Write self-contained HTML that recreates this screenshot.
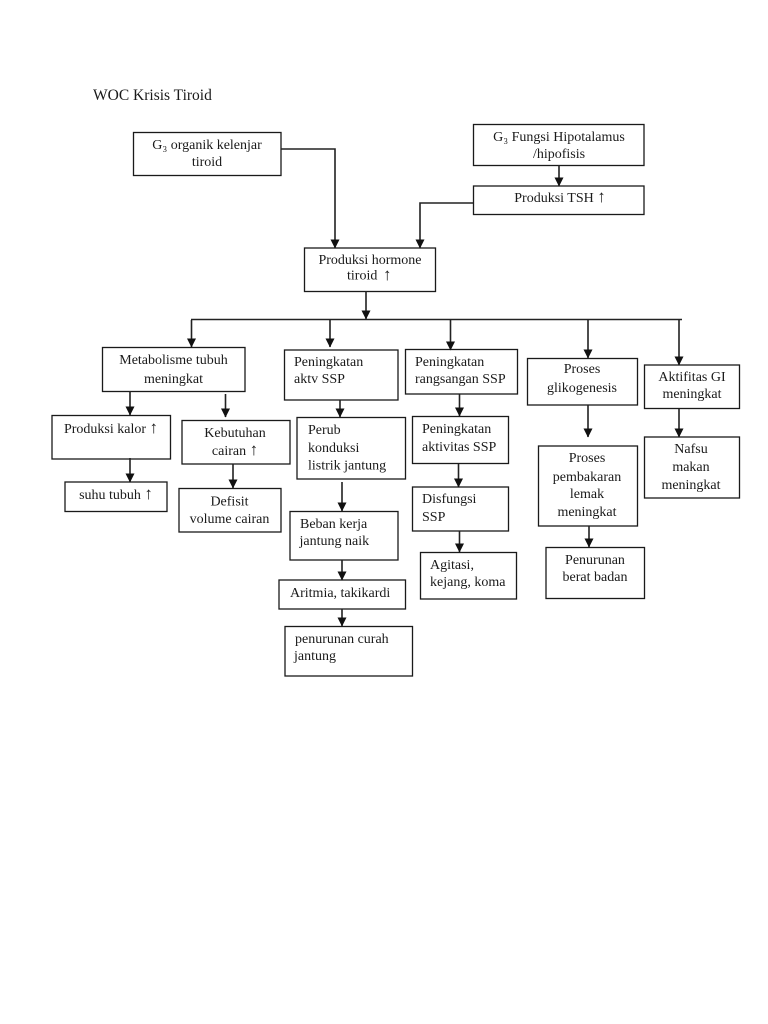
<!DOCTYPE html>
<html lang="id">
<head>
<meta charset="utf-8">
<title>WOC Krisis Tiroid</title>
<style>
html,body{margin:0;padding:0;background:#fff;}
svg{display:block;}
text{font-family:"Liberation Serif",serif;font-size:14px;fill:#1a1a1a;}
.c{text-anchor:middle;}
.b{fill:#fff;stroke:#1a1a1a;stroke-width:1.3;}
.l{fill:none;stroke:#222;stroke-width:1.6;}
.u{font-size:17px;}
</style>
</head>
<body>
<svg width="768" height="1024" viewBox="0 0 768 1024" xmlns="http://www.w3.org/2000/svg">
<defs>
<marker id="a" markerUnits="userSpaceOnUse" markerWidth="9" markerHeight="9" refX="8.5" refY="4.5" orient="auto">
<path d="M0 0L9 4.5L0 9Z" fill="#111"/>
</marker>
</defs>
<rect width="768" height="1024" fill="#fff"/>

<!-- boxes -->
<rect class="b" x="133.5" y="132.5" width="147.5" height="43"/>
<rect class="b" x="473.5" y="124.5" width="170.5" height="41"/>
<rect class="b" x="473.5" y="186" width="170.5" height="28.5"/>
<rect class="b" x="304.5" y="248" width="131" height="43.5"/>
<rect class="b" x="102.5" y="347.5" width="142.5" height="44"/>
<rect class="b" x="284.5" y="350" width="113.5" height="50"/>
<rect class="b" x="405.5" y="349.5" width="112" height="44.5"/>
<rect class="b" x="527.5" y="358.5" width="110" height="46.5"/>
<rect class="b" x="644.5" y="365" width="95" height="43.5"/>
<rect class="b" x="52" y="415.5" width="118.5" height="43.5"/>
<rect class="b" x="182" y="420.5" width="108" height="43.5"/>
<rect class="b" x="297" y="417.5" width="108.5" height="61.5"/>
<rect class="b" x="412.5" y="416.5" width="96" height="47"/>
<rect class="b" x="538.5" y="446" width="99" height="80"/>
<rect class="b" x="644.5" y="437" width="95" height="61"/>
<rect class="b" x="65" y="482" width="102" height="29.5"/>
<rect class="b" x="179" y="488.5" width="102" height="43.5"/>
<rect class="b" x="412.5" y="487" width="96" height="44"/>
<rect class="b" x="290" y="511.5" width="108" height="48.5"/>
<rect class="b" x="420.5" y="552.5" width="96" height="46.5"/>
<rect class="b" x="546" y="547.5" width="98.5" height="51"/>
<rect class="b" x="279" y="580" width="126.5" height="29"/>
<rect class="b" x="285" y="626.5" width="127.5" height="49.5"/>

<!-- connectors -->
<path class="l" d="M281 149H335V248" marker-end="url(#a)"/>
<path class="l" d="M473 203H420V248" marker-end="url(#a)"/>
<path class="l" d="M559 165V186" marker-end="url(#a)"/>
<path class="l" d="M366 291V319" marker-end="url(#a)"/>
<path class="l" d="M191 319.5H682" stroke-width="1.3"/>
<path class="l" d="M191.500 320V347" marker-end="url(#a)"/>
<path class="l" d="M330 320V347" marker-end="url(#a)"/>
<path class="l" d="M450.500 320V350" marker-end="url(#a)"/>
<path class="l" d="M588 320V358" marker-end="url(#a)"/>
<path class="l" d="M679 320V365" marker-end="url(#a)"/>
<path class="l" d="M130 391V415" marker-end="url(#a)"/>
<path class="l" d="M225.500 394V417" marker-end="url(#a)"/>
<path class="l" d="M130 458V482" marker-end="url(#a)"/>
<path class="l" d="M233 464V488" marker-end="url(#a)"/>
<path class="l" d="M340 400V417" marker-end="url(#a)"/>
<path class="l" d="M342 482V511" marker-end="url(#a)"/>
<path class="l" d="M342 560V580" marker-end="url(#a)"/>
<path class="l" d="M342 609V626" marker-end="url(#a)"/>
<path class="l" d="M459.500 394V416" marker-end="url(#a)"/>
<path class="l" d="M458.500 464V487" marker-end="url(#a)"/>
<path class="l" d="M459.500 531V552" marker-end="url(#a)"/>
<path class="l" d="M588 405V437" marker-end="url(#a)"/>
<path class="l" d="M589 526V547" marker-end="url(#a)"/>
<path class="l" d="M679 409V437" marker-end="url(#a)"/>

<!-- labels -->
<text x="93" y="100" style="font-size:15.5px">WOC Krisis Tiroid</text>

<text class="c" x="207" y="149">G₃ organik kelenjar</text>
<text class="c" x="207" y="166">tiroid</text>
<text class="c" x="559" y="141">G₃ Fungsi Hipotalamus</text>
<text class="c" x="559" y="158">/hipofisis</text>
<text class="c" x="560" y="202">Produksi TSH <tspan class="u">↑</tspan></text>
<text class="c" x="370" y="264">Produksi hormone</text>
<text x="347" y="279.500">tiroid</text>
<text x="383" y="280" class="u">↑</text>

<text class="c" x="173.500" y="364">Metabolisme tubuh</text>
<text class="c" x="173.500" y="383">meningkat</text>
<text x="294" y="366">Peningkatan</text>
<text x="294" y="383">aktv SSP</text>
<text x="415" y="366">Peningkatan</text>
<text x="415" y="383">rangsangan SSP</text>
<text class="c" x="582" y="373">Proses</text>
<text class="c" x="582" y="392">glikogenesis</text>
<text class="c" x="692" y="381">Aktifitas GI</text>
<text class="c" x="692" y="398">meningkat</text>

<text class="c" x="111" y="433">Produksi kalor <tspan class="u">↑</tspan></text>
<text class="c" x="116" y="499">suhu tubuh <tspan class="u">↑</tspan></text>
<text class="c" x="235" y="437">Kebutuhan</text>
<text class="c" x="235" y="455">cairan <tspan class="u">↑</tspan></text>
<text class="c" x="229.500" y="505.500">Defisit</text>
<text class="c" x="229.500" y="523">volume cairan</text>

<text x="308" y="434">Perub</text>
<text x="308" y="452">konduksi</text>
<text x="308" y="469.500">listrik jantung</text>
<text x="300" y="528">Beban kerja</text>
<text x="299.500" y="545">jantung naik</text>
<text x="290" y="597">Aritmia, takikardi</text>
<text x="295" y="643">penurunan curah</text>
<text x="294" y="660">jantung</text>

<text x="422" y="433">Peningkatan</text>
<text x="422" y="451">aktivitas SSP</text>
<text x="422" y="503">Disfungsi</text>
<text x="422" y="521">SSP</text>
<text x="430" y="569">Agitasi,</text>
<text x="430" y="586">kejang, koma</text>

<text class="c" x="587" y="462">Proses</text>
<text class="c" x="587" y="481">pembakaran</text>
<text class="c" x="587" y="498">lemak</text>
<text class="c" x="587" y="516">meningkat</text>
<text class="c" x="595" y="564">Penurunan</text>
<text class="c" x="595" y="581">berat badan</text>

<text class="c" x="691" y="453">Nafsu</text>
<text class="c" x="691" y="471">makan</text>
<text class="c" x="691" y="489">meningkat</text>
</svg>
</body>
</html>
